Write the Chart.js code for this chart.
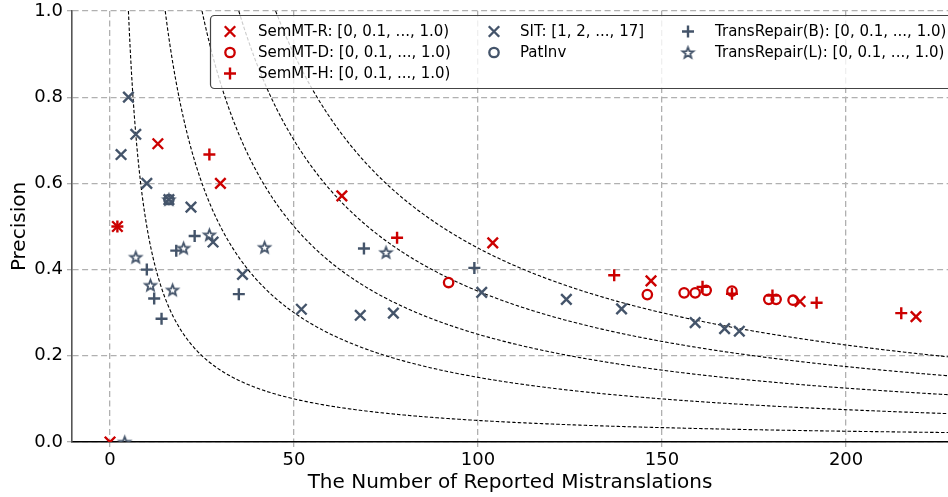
<!DOCTYPE html>
<html><head><meta charset="utf-8">
<script src="https://cdn.jsdelivr.net/npm/chart.js@4.4.0/dist/chart.umd.min.js"></script>
<style>html,body{margin:0;padding:0;background:#fff;}#wrap{width:948px;height:497px;position:relative;}</style>
</head><body><div id="wrap"><canvas id="c" width="948" height="497"></canvas></div>
<script>
// ---- data ----
const semmtR_x = [0, 2, 13, 30, 63, 104, 147, 187.5, 219];
const semmtR_y = [0, 0.5, 0.692, 0.6, 0.571, 0.462, 0.374, 0.326, 0.291];
const semmtD_x = [92, 146, 156, 159, 162, 169, 179, 181, 185.6];
const semmtD_y = [0.37, 0.342, 0.346, 0.346, 0.352, 0.35, 0.331, 0.331, 0.329];
const semmtH_x = [2, 27, 78, 137, 161, 169, 180, 192, 215];
const semmtH_y = [0.5, 0.667, 0.474, 0.387, 0.36, 0.344, 0.34, 0.323, 0.299];
const sit_x = [3, 5, 7, 10, 16, 22, 28, 36, 52, 68, 77, 101, 124, 139, 159, 167, 171];
const sit_y = [0.667, 0.8, 0.714, 0.6, 0.5625, 0.545, 0.464, 0.389, 0.308, 0.294, 0.299, 0.347, 0.331, 0.309, 0.277, 0.263, 0.257];
const patinv_x = [16];
const patinv_y = [0.5625];
const trB_x = [10, 12, 14, 18, 23, 35, 69, 99];
const trB_y = [0.4, 0.333, 0.286, 0.444, 0.478, 0.343, 0.449, 0.404];
const trL_x = [4, 7, 11, 16, 17, 20, 27, 42, 75];
const trL_y = [0, 0.429, 0.364, 0.5625, 0.353, 0.45, 0.481, 0.452, 0.44];
const seriesLabels = ['SemMT-R: [0, 0.1, ..., 1.0)', 'SemMT-D: [0, 0.1, ..., 1.0)', 'SemMT-H: [0, 0.1, ..., 1.0)',
  'SIT: [1, 2, ..., 17]', 'PatInv', 'TransRepair(B): [0, 0.1, ..., 1.0)', 'TransRepair(L): [0, 0.1, ..., 1.0)'];
const xTicks = [0, 50, 100, 150, 200];
const yTicks = [0, 0.2, 0.4, 0.6, 0.8, 1.0];
const isoTruePositives = [5, 15, 25, 35, 45]; // reference curves: precision = k / reported
const xRange = [-10.33, 227.7];
const yRange = [0, 1];

const RED = '#cc0000', SLATE = '#44546a';
const FONT = "'DejaVu Sans', sans-serif";

function pts(xs, ys) { return xs.map((x, i) => ({x: x, y: ys[i]})); }
function makeStar(color) {
  const R = 5.8, r = 2.5, lw = 1.8, size = 17;
  const c = document.createElement('canvas'); c.width = size; c.height = size;
  const g = c.getContext('2d');
  g.translate(size / 2, size / 2 + 0.6);
  g.beginPath();
  for (let i = 0; i < 10; i++) {
    const a = -Math.PI / 2 + i * Math.PI / 5, rr = i % 2 ? r : R;
    g.lineTo(rr * Math.cos(a), rr * Math.sin(a));
  }
  g.closePath(); g.strokeStyle = color; g.lineWidth = lw; g.lineJoin = 'miter'; g.stroke();
  return c;
}
const starImg = makeStar(SLATE);

function ds(label, data, color, style, radius, bw) {
  return {label, data, showLine: false, pointStyle: style, pointRadius: radius, pointHoverRadius: radius,
    pointBorderColor: color, pointBackgroundColor: 'rgba(0,0,0,0)', pointBorderWidth: bw, pointHoverBorderWidth: bw,
    borderColor: color, backgroundColor: 'rgba(0,0,0,0)'};
}
const datasets = [
  ds(seriesLabels[0], pts(semmtR_x, semmtR_y), RED, 'crossRot', 7.4, 2.4),
  ds(seriesLabels[1], pts(semmtD_x, semmtD_y), RED, 'circle', 4.7, 2.3),
  ds(seriesLabels[2], pts(semmtH_x, semmtH_y), RED, 'cross', 6, 2.4),
  ds(seriesLabels[3], pts(sit_x, sit_y), SLATE, 'crossRot', 7.4, 2.4),
  ds(seriesLabels[4], pts(patinv_x, patinv_y), SLATE, 'circle', 4.7, 2.3),
  ds(seriesLabels[5], pts(trB_x, trB_y), SLATE, 'cross', 6, 2.4),
  ds(seriesLabels[6], pts(trL_x, trL_y), SLATE, starImg, 6, 1.8)
];

const isoPlugin = {
  id: 'iso',
  beforeDatasetsDraw(chart) {
    const {ctx, chartArea: a, scales: {x, y}} = chart;
    ctx.save();
    ctx.beginPath(); ctx.rect(a.left, a.top, a.right - a.left, a.bottom - a.top); ctx.clip();
    ctx.strokeStyle = '#000'; ctx.lineWidth = 1.1; ctx.setLineDash([3.5, 2]);
    isoTruePositives.forEach(k => {
      ctx.beginPath();
      const startPx = x.getPixelForValue(k);
      let first = true;
      for (let px = startPx; px <= a.right + 1; px += 1) {
        const v = x.getValueForPixel(px);
        const py = y.getPixelForValue(k / v);
        if (first) { ctx.moveTo(px, py); first = false; } else ctx.lineTo(px, py);
      }
      ctx.stroke();
    });
    ctx.restore();
  }
};

const legendPlugin = {
  id: 'customLegend',
  afterDraw(chart) {
    const ctx = chart.ctx;
    const box = {x: 210.5, y: 15.5, w: 760, h: 73};
    ctx.save();
    ctx.beginPath();
    if (ctx.roundRect) ctx.roundRect(box.x, box.y, box.w, box.h, 4); else ctx.rect(box.x, box.y, box.w, box.h);
    ctx.fillStyle = 'rgba(255,255,255,0.8)'; ctx.fill();
    ctx.strokeStyle = '#444'; ctx.lineWidth = 1.2; ctx.stroke();
    const markerX = [230, 494, 688], textX = [258, 520, 715], rowY = [31.5, 52.5, 73.5];
    const layout = [[0, 0], [0, 1], [0, 2], [1, 0], [1, 1], [2, 0], [2, 1]];
    ctx.font = '15px ' + FONT; ctx.textBaseline = 'middle'; ctx.textAlign = 'left';
    chart.data.datasets.forEach((d, i) => {
      const [c, r] = layout[i];
      ctx.strokeStyle = d.pointBorderColor; ctx.fillStyle = 'rgba(0,0,0,0)';
      ctx.lineWidth = d.pointBorderWidth;
      Chart.helpers.drawPoint(ctx, {pointStyle: d.pointStyle, radius: d.pointRadius, borderWidth: d.pointBorderWidth, rotation: 0}, markerX[c], rowY[r]);
      ctx.fillStyle = '#000';
      ctx.fillText(d.label, textX[c], rowY[r] + 1);
    });
    ctx.restore();
  }
};

new Chart(document.getElementById('c'), {
  type: 'scatter',
  data: {datasets},
  plugins: [isoPlugin, legendPlugin],
  options: {
    responsive: false, animation: false,
    layout: {autoPadding: false, padding: {top: 11, right: 0, left: 0, bottom: 0}},
    plugins: {legend: {display: false}, tooltip: {enabled: false}},
    scales: {
      x: {
        type: 'linear', min: xRange[0], max: xRange[1],
        afterBuildTicks: s => { s.ticks = xTicks.map(v => ({value: v})); },
        afterFit: s => { s.height = 55; s.paddingLeft = 0; s.paddingRight = 0; },
        ticks: {callback: v => String(v), font: {size: 18, family: FONT}, color: '#000', padding: 3, maxRotation: 0, autoSkip: false},
        grid: {color: '#b0b0b0', lineWidth: 1.3, tickLength: 5, tickColor: '#b0b0b0', tickWidth: 1.3},
        border: {display: true, color: '#000', width: 1.6, dash: [6, 3.5]},
        title: {display: true, text: 'The Number of Reported Mistranslations', font: {size: 20, family: FONT}, color: '#000', padding: {top: 0, bottom: 2}}
      },
      y: {
        type: 'linear', min: yRange[0], max: yRange[1],
        afterBuildTicks: s => { s.ticks = yTicks.map(v => ({value: v})); },
        afterFit: s => { s.width = 72; s.paddingTop = 0; s.paddingBottom = 0; },
        ticks: {callback: v => Number(v).toFixed(1), font: {size: 18, family: FONT}, color: '#000', padding: 4, autoSkip: false},
        grid: {color: '#b0b0b0', lineWidth: 1.3, tickLength: 5, tickColor: '#b0b0b0', tickWidth: 1.3},
        border: {display: true, color: '#555', width: 1.6, dash: [6, 3.5]},
        title: {display: true, text: 'Precision', font: {size: 20, family: FONT}, color: '#000', padding: {top: 8, bottom: 0}}
      }
    }
  }
});
</script></body></html>
